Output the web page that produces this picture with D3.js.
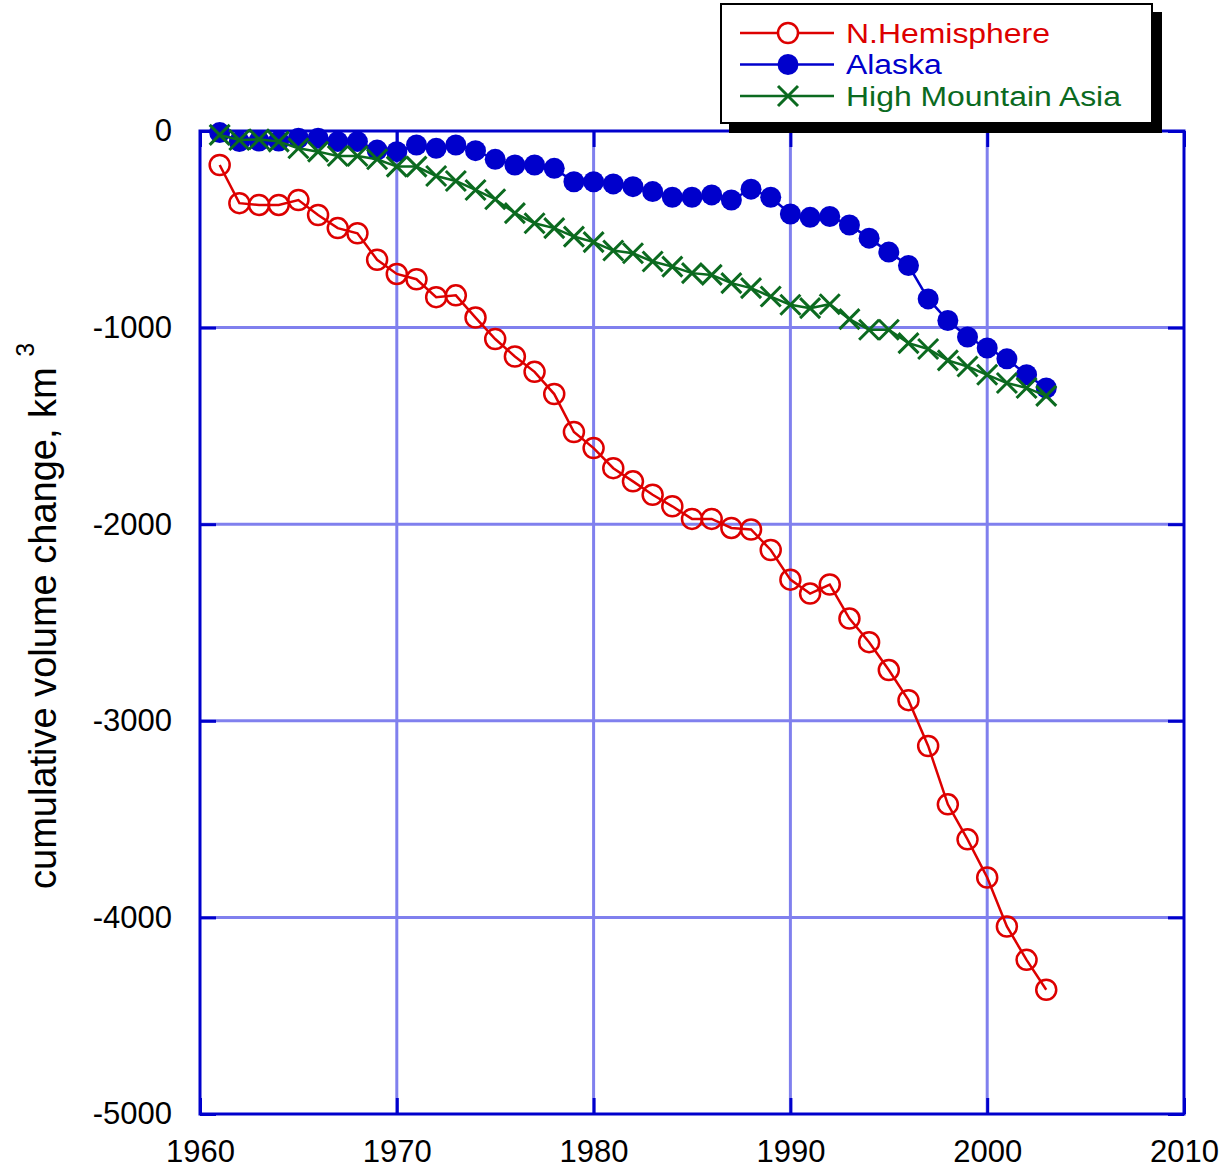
<!DOCTYPE html>
<html>
<head>
<meta charset="utf-8">
<script src="https://cdn.jsdelivr.net/npm/d3@7"></script>
<style>
  body { margin: 0; background: #fff; }
  text { font-family: "Liberation Sans", Arial, sans-serif; }
</style>
</head>
<body>
<div id="d3-container"></div>
<script>
/* DATA */
const years = d3.range(1961, 2004);

const nHemisphere = [
  -173, -367, -376, -376, -351, -427, -494, -520, -655, -727,
  -754, -845, -836, -949, -1058, -1147, -1225, -1338, -1531, -1613,
  -1715, -1782, -1850, -1909, -1973, -1973, -2019, -2027, -2131, -2282,
  -2353, -2307, -2480, -2600, -2742, -2895, -3128, -3425, -3603, -3797,
  -4046, -4216, -4368
];

const alaska = [
  -8, -54, -51, -51, -37, -37, -54, -54, -97, -105,
  -71, -88, -71, -100, -144, -173, -173, -190, -258, -258,
  -269, -283, -308, -337, -337, -325, -351, -296, -337, -422,
  -439, -435, -478, -545, -616, -684, -854, -964, -1048, -1104,
  -1159, -1240, -1307
];

const highMountainAsia = [
  -20, -46, -42, -54, -88, -105, -127, -127, -144, -181,
  -181, -229, -254, -300, -347, -418, -469, -494, -537, -565,
  -608, -622, -664, -690, -723, -732, -774, -799, -842, -884,
  -901, -881, -957, -1011, -1011, -1079, -1109, -1167, -1198, -1240,
  -1282, -1307, -1347
];

const xTicks = [1960, 1970, 1980, 1990, 2000, 2010];
const yTicks = [0, -1000, -2000, -3000, -4000, -5000];

const seriesNames = ["N.Hemisphere", "Alaska", "High Mountain Asia"];

/* CONSTANTS */
const width = 1227,
  height = 1171,
  plot = { left: 200, right: 1184, top: 131, bottom: 1114 };

const red = "#dd0000",
  blue = "#0000cc",
  green = "#0b6a1f",
  gridColor = "#8080ee";

const series = [
  { name: seriesNames[0], values: nHemisphere, color: red, marker: "open" },
  { name: seriesNames[1], values: alaska, color: blue, marker: "dot" },
  { name: seriesNames[2], values: highMountainAsia, color: green, marker: "cross" }
];

/* SCALES */
const xScale = d3.scaleLinear().domain([1960, 2010]).range([plot.left, plot.right]);
const yScale = d3.scaleLinear().domain([-5000, 0]).range([plot.bottom, plot.top]);

const svg = d3.select("#d3-container")
  .append("svg")
  .attr("width", width)
  .attr("height", height);

/* GRID */
svg.append("g")
  .selectAll("line")
  .data(xTicks.slice(1, -1))
  .join("line")
  .attr("x1", d => xScale(d))
  .attr("x2", d => xScale(d))
  .attr("y1", plot.top)
  .attr("y2", plot.bottom)
  .attr("stroke", gridColor)
  .attr("stroke-width", 3);

svg.append("g")
  .selectAll("line")
  .data(yTicks.slice(1, -1))
  .join("line")
  .attr("x1", plot.left)
  .attr("x2", plot.right)
  .attr("y1", d => yScale(d))
  .attr("y2", d => yScale(d))
  .attr("stroke", gridColor)
  .attr("stroke-width", 3);

/* AXES */
function styleAxis(g) {
  g.select(".domain").remove();
  g.selectAll(".tick line").attr("stroke", blue).attr("stroke-width", 3);
  g.selectAll(".tick text")
    .attr("fill", "#000")
    .style("font-size", "31px")
    .style("font-family", "'Liberation Sans', Arial, sans-serif");
}

// plain hyphen for negatives, like the original
const plainNum = d => String(d);

svg.append("g")
  .attr("transform", `translate(0,${plot.bottom})`)
  .call(d3.axisBottom(xScale).tickValues(xTicks).tickFormat(plainNum).tickSize(-16).tickPadding(26))
  .call(styleAxis);

svg.append("g")
  .attr("transform", `translate(0,${plot.top})`)
  .call(d3.axisTop(xScale).tickValues(xTicks).tickFormat("").tickSize(-16))
  .call(styleAxis);

svg.append("g")
  .attr("transform", `translate(${plot.left},0)`)
  .call(d3.axisLeft(yScale).tickValues(yTicks).tickFormat(plainNum).tickSize(-16).tickPadding(28))
  .call(styleAxis);

svg.append("g")
  .attr("transform", `translate(${plot.right},0)`)
  .call(d3.axisRight(yScale).tickValues(yTicks).tickFormat("").tickSize(-16))
  .call(styleAxis);

// frame
svg.append("rect")
  .attr("x", plot.left)
  .attr("y", plot.top)
  .attr("width", plot.right - plot.left)
  .attr("height", plot.bottom - plot.top)
  .attr("fill", "none")
  .attr("stroke", blue)
  .attr("stroke-width", 3);

// y axis title with superscript
const yTitle = svg.append("text")
  .attr("transform", "translate(56,889) rotate(-90)")
  .attr("fill", "#000")
  .style("font-size", "38px");
yTitle.append("tspan").text("cumulative volume change, km ");
yTitle.append("tspan").attr("dy", -22).style("font-size", "25px").text("3");

/* MARKERS */
function drawMarker(g, s, cx, cy) {
  if (s.marker === "cross") {
    const r = 10;
    g.append("path")
      .attr("d", `M${cx - r},${cy - r}L${cx + r},${cy + r}M${cx - r},${cy + r}L${cx + r},${cy - r}`)
      .attr("stroke", s.color)
      .attr("stroke-width", 3)
      .attr("fill", "none");
  } else {
    g.append("circle")
      .attr("cx", cx)
      .attr("cy", cy)
      .attr("r", s.marker === "open" ? 10 : 10.5)
      .attr("fill", s.marker === "open" ? "none" : s.color)
      .attr("stroke", s.color)
      .attr("stroke-width", s.marker === "open" ? 2.5 : 0);
  }
}

/* LINES */
const line = d3.line().x(d => xScale(d.year)).y(d => yScale(d.value));

// draw order: Alaska, High Mountain Asia, then N.Hemisphere
[series[1], series[2], series[0]].forEach(s => {
  const pts = years.map((yr, i) => ({ year: yr, value: s.values[i] }));
  const g = svg.append("g");
  g.append("path")
    .datum(pts)
    .attr("d", line)
    .attr("fill", "none")
    .attr("stroke", s.color)
    .attr("stroke-width", 2.5);
  pts.forEach(d => drawMarker(g, s, xScale(d.year), yScale(d.value)));
});

/* LEGEND */
const legend = svg.append("g");
legend.append("rect")
  .attr("x", 729).attr("y", 12)
  .attr("width", 433).attr("height", 121)
  .attr("fill", "#000");
legend.append("rect")
  .attr("x", 721).attr("y", 4)
  .attr("width", 431).attr("height", 119)
  .attr("fill", "#fff")
  .attr("stroke", "#000")
  .attr("stroke-width", 2);

series.forEach((s, i) => {
  const cy = 33 + i * 31.5;
  const row = legend.append("g");
  row.append("line")
    .attr("x1", 740).attr("x2", 834)
    .attr("y1", cy).attr("y2", cy)
    .attr("stroke", s.color)
    .attr("stroke-width", 2.5);
  drawMarker(row, s, 788, cy);
  if (s.marker === "open") row.select("circle").attr("fill", "#fff");
  // slightly widened glyphs, as in the original legend
  row.append("text")
    .attr("transform", `translate(846,${cy}) scale(1.14,1)`)
    .attr("dy", "0.35em")
    .attr("fill", s.color)
    .style("font-size", "28px")
    .text(s.name);
});
</script>
</body>
</html>
